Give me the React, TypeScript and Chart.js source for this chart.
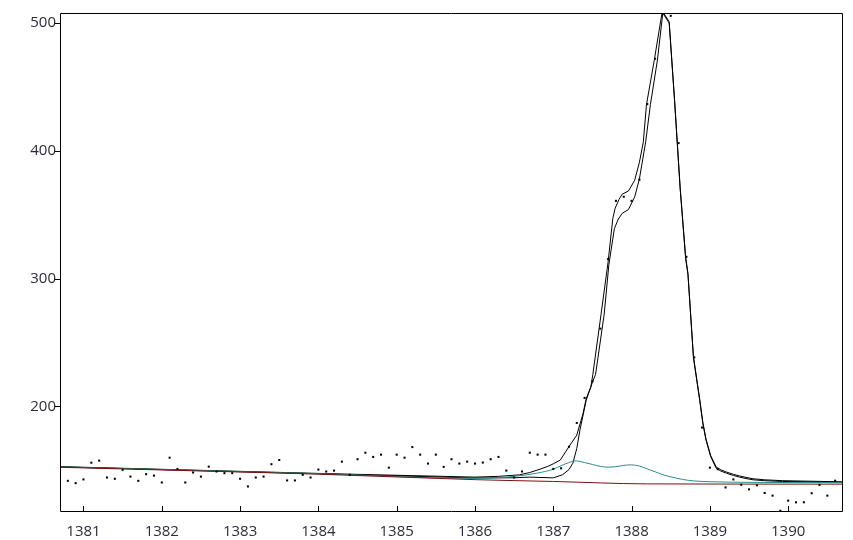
import React, { useEffect, useRef } from "react";
import { Chart, registerables } from "chart.js";

Chart.register(...registerables);

// Measured spectrum (x = wavenumber, y = intensity)
const waveNumbers = [
  1380.7, 1380.8, 1380.9, 1381.0, 1381.1, 1381.2, 1381.3, 1381.4, 1381.5, 1381.6,
  1381.7, 1381.8, 1381.9, 1382.0, 1382.1, 1382.2, 1382.3, 1382.4, 1382.5, 1382.6,
  1382.7, 1382.8, 1382.9, 1383.0, 1383.1, 1383.2, 1383.3, 1383.4, 1383.5, 1383.6,
  1383.7, 1383.8, 1383.9, 1384.0, 1384.1, 1384.2, 1384.3, 1384.4, 1384.5, 1384.6,
  1384.7, 1384.8, 1384.9, 1385.0, 1385.1, 1385.2, 1385.3, 1385.4, 1385.5, 1385.6,
  1385.7, 1385.8, 1385.9, 1386.0, 1386.1, 1386.2, 1386.3, 1386.4, 1386.5, 1386.6,
  1386.7, 1386.8, 1386.9, 1387.0, 1387.1, 1387.2, 1387.3, 1387.4, 1387.5, 1387.6,
  1387.7, 1387.8, 1387.9, 1388.0, 1388.1, 1388.2, 1388.3, 1388.4, 1388.5, 1388.6,
  1388.7, 1388.8, 1388.9, 1389.0, 1389.1, 1389.2, 1389.3, 1389.4, 1389.5, 1389.6,
  1389.7, 1389.8, 1389.9, 1390.0, 1390.1, 1390.2, 1390.3, 1390.4, 1390.5, 1390.6,
  1390.7,
];
const intensities = [
  137.3, 141.7, 139.9, 142.8, 155.9, 157.5, 144.3, 143.3, 150.3, 145.0,
  141.7, 146.9, 145.8, 140.4, 159.8, 151.0, 140.4, 148.2, 145.0, 152.8,
  149.0, 147.7, 147.7, 143.3, 137.3, 144.3, 145.0, 154.7, 158.0, 142.0,
  142.0, 146.4, 144.3, 150.5, 149.0, 149.7, 156.7, 146.4, 158.6, 163.7,
  160.4, 162.2, 152.0, 162.2, 159.8, 168.1, 162.2, 155.2, 162.2, 152.6,
  158.6, 155.2, 156.7, 155.2, 156.0, 158.6, 160.4, 149.7, 144.3, 149.0,
  163.7, 162.2, 162.2, 151.0, 151.5, 168.4, 187.0, 206.6, 219.6, 260.8,
  315.2, 360.8, 364.0, 360.8, 377.4, 436.5, 472.0, 509.0, 505.6, 406.0,
  317.0, 238.3, 183.4, 152.0, 150.8, 136.5, 142.8, 138.6, 135.0, 138.2,
  132.2, 130.1, 118.3, 126.2, 124.9, 124.9, 132.0, 138.5, 130.1, 141.8,
  136.5,
];

// Linear baseline (dark red)
const baselineX = [1380.7, 1382.0, 1384.0, 1386.0, 1387.0, 1388.2, 1390.7];
const baselineY = [152.3, 150.2, 146.9, 142.6, 141.2, 139.3, 139.1];

// Minor component (teal)
const componentX = [
  1380.7, 1384.0, 1386.0, 1386.5, 1386.8, 1387.0, 1387.1, 1387.2, 1387.28, 1387.4,
  1387.5, 1387.6, 1387.7, 1387.8, 1387.9, 1388.0, 1388.1, 1388.2, 1388.3, 1388.4,
  1388.5, 1388.65, 1388.8, 1389.0, 1389.3, 1389.7, 1390.7,
];
const componentY = [
  152.6, 147.3, 143.6, 145.2, 147.8, 150.8, 153.5, 156.0, 157.3, 156.0,
  154.5, 153.0, 152.4, 152.8, 153.8, 154.2, 153.2, 151.0, 148.8, 146.5,
  144.8, 142.8, 141.6, 141.0, 140.6, 140.4, 140.3,
];

// Envelope fit A (black)
const fitAX = [
  1380.7, 1384.0, 1386.0, 1386.3, 1386.57, 1386.7, 1386.83, 1386.93, 1387.0, 1387.09,
  1387.2, 1387.3, 1387.38, 1387.42, 1387.48, 1387.505, 1387.61, 1387.7, 1387.76, 1387.79,
  1387.84, 1387.88, 1387.96, 1388.04, 1388.1, 1388.15, 1388.19, 1388.29, 1388.39, 1388.48,
  1388.55, 1388.62, 1388.69, 1388.72, 1388.79, 1388.87, 1388.91, 1388.95, 1389.01, 1389.08,
  1389.14, 1389.21, 1389.3, 1389.38, 1389.46, 1389.55, 1389.7, 1389.93, 1390.7,
];
const fitAY = [
  152.8, 147.5, 144.6, 145.2, 146.4, 148.2, 150.8, 153.0, 155.0, 158.0,
  168.4, 177.5, 194.3, 206.0, 215.0, 225.0, 272.0, 313.0, 347.0, 355.0,
  362.0, 366.0, 368.5, 377.0, 391.0, 407.0, 436.0, 471.0, 508.5, 500.0,
  438.0, 370.5, 316.0, 303.0, 238.0, 204.7, 186.6, 173.6, 160.6, 151.6,
  149.3, 147.7, 145.9, 144.6, 143.5, 142.5, 141.8, 141.2, 140.4,
];

// Envelope fit B (black)
const fitBX = [
  1380.7, 1384.0, 1386.0, 1386.5, 1386.7, 1387.0, 1387.12, 1387.2, 1387.25, 1387.3,
  1387.34, 1387.42, 1387.5, 1387.54, 1387.65, 1387.71, 1387.78, 1387.83, 1387.88, 1387.96,
  1388.04, 1388.1, 1388.18, 1388.24, 1388.33, 1388.4, 1388.48, 1388.55, 1388.62, 1388.69,
  1388.72, 1388.79, 1388.87, 1388.91, 1388.95, 1389.01, 1389.08, 1389.14, 1389.21, 1389.3,
  1389.38, 1389.46, 1389.55, 1389.7, 1389.93, 1390.7,
];
const fitBY = [
  152.6, 147.2, 143.9, 144.1, 144.6, 144.0, 146.5, 150.5, 155.5, 167.0,
  181.4, 204.7, 218.9, 225.0, 272.0, 311.0, 339.0, 346.5, 351.0, 354.0,
  364.0, 378.0, 407.0, 436.0, 471.0, 508.5, 501.0, 439.0, 371.5, 317.0,
  304.0, 239.0, 205.5, 187.5, 174.5, 161.5, 152.6, 150.3, 148.6, 146.8,
  145.5, 144.4, 143.3, 142.5, 141.8, 140.9,
];

const xTickValues = [1381, 1382, 1383, 1384, 1385, 1386, 1387, 1388, 1389, 1390];
const yTickValues = [200, 300, 400, 500];

const zip = (xs: number[], ys: number[]) => xs.map((x, i) => ({ x, y: ys[i] }));

const framePlugin = {
  id: "frame",
  afterDraw(chart: any) {
    const { ctx, chartArea } = chart;
    const { left, top, right, bottom } = chartArea;
    ctx.save();
    ctx.strokeStyle = "#000";
    ctx.lineWidth = 1;
    ctx.beginPath();
    ctx.rect(left + 0.5, top + 0.5, right - left - 1, bottom - top - 1);
    ctx.stroke();
    const xs = chart.scales.x;
    const ys = chart.scales.y;
    ctx.beginPath();
    xTickValues.forEach((v) => {
      const px = Math.round(xs.getPixelForValue(v)) + 0.5;
      ctx.moveTo(px, bottom - 1);
      ctx.lineTo(px, bottom - 6);
    });
    yTickValues.forEach((v) => {
      const py = Math.round(ys.getPixelForValue(v)) + 0.5;
      ctx.moveTo(left, py);
      ctx.lineTo(left - 5, py);
    });
    ctx.stroke();
    ctx.restore();
  },
};

export default function App() {
  const ref = useRef<HTMLCanvasElement | null>(null);
  useEffect(() => {
    if (!ref.current) return;
    const smooth = {
      showLine: true,
      pointRadius: 0,
      borderWidth: 1,
      cubicInterpolationMode: "monotone" as const,
      fill: false,
    };
    const straight = {
      showLine: true,
      pointRadius: 0,
      borderWidth: 1,
      tension: 0,
      fill: false,
    };
    const chart = new Chart(ref.current, {
      type: "scatter",
      data: {
        datasets: [
          {
            label: "data",
            data: zip(waveNumbers, intensities),
            showLine: false,
            pointStyle: "rect",
            pointRadius: 1.45,
            backgroundColor: "#000",
            borderWidth: 0,
            order: 0,
          },
          { label: "baseline", data: zip(baselineX, baselineY), borderColor: "#7a1010", ...smooth, order: 1 },
          { label: "component", data: zip(componentX, componentY), borderColor: "#2b8c8e", ...smooth, order: 2 },
          { label: "fitA", data: zip(fitAX, fitAY), borderColor: "#000", ...straight, order: 3 },
          { label: "fitB", data: zip(fitBX, fitBY), borderColor: "#000", ...straight, order: 4 },
        ],
      },
      options: {
        responsive: false,
        animation: false,
        events: [],
        layout: { padding: { left: 0, top: 10, right: 10, bottom: 0 } },
        plugins: { legend: { display: false }, tooltip: { enabled: false } },
        scales: {
          x: {
            type: "linear",
            min: 1380.7,
            max: 1390.7,
            grid: { display: false, drawTicks: false },
            border: { display: false },
            afterBuildTicks: (s: any) => {
              s.ticks = xTickValues.map((v) => ({ value: v }));
            },
            afterFit: (s: any) => {
              s.height = 28;
            },
            ticks: {
              padding: 11,
              color: "#2d2d3a",
              font: { family: "'Open Sans'", size: 15 },
              maxRotation: 0,
              autoSkip: false,
              callback: (v: any) => String(v),
            },
          },
          y: {
            type: "linear",
            min: 117.3,
            max: 507.8,
            grid: { display: false, drawTicks: false },
            border: { display: false },
            afterBuildTicks: (s: any) => {
              s.ticks = yTickValues.map((v) => ({ value: v }));
            },
            afterFit: (s: any) => {
              s.width = 60;
            },
            ticks: {
              padding: 4,
              color: "#2d2d3a",
              font: { family: "'Open Sans'", size: 15 },
              autoSkip: false,
              callback: (v: any) => String(v),
            },
          },
        },
      },
      plugins: [framePlugin],
    });
    return () => chart.destroy();
  }, []);
  return (
    <div style={{ position: "fixed", left: 0, top: 0, width: 853, height: 540, background: "#fff" }}>
      <canvas ref={ref} width={853} height={540} style={{ display: "block", width: 853, height: 540 }} />
    </div>
  );
}
